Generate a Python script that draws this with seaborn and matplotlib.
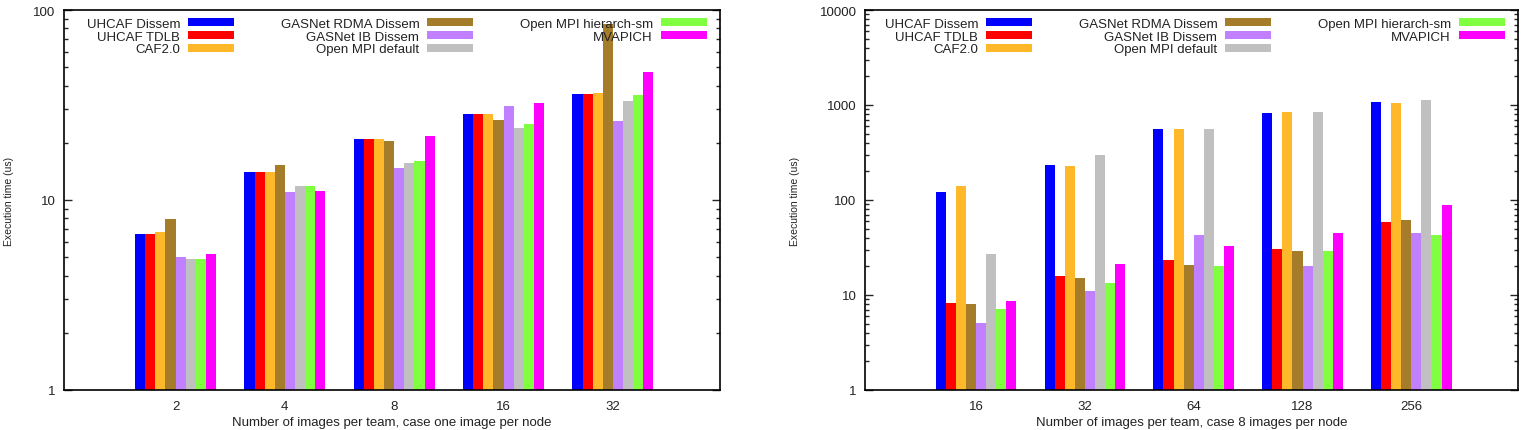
import pandas as pd
import matplotlib
matplotlib.use('Agg')
import matplotlib.pyplot as plt
import seaborn as sns
from matplotlib.patches import Patch
from matplotlib.ticker import LogLocator, NullFormatter

# 系列名称和颜色
series = ['UHCAF Dissem', 'UHCAF TDLB', 'CAF2.0', 'GASNet RDMA Dissem',
          'GASNet IB Dissem', 'Open MPI default', 'Open MPI hierarch-sm', 'MVAPICH']
colors = ['#0000ff', '#ff0000', '#ffb829', '#a57c29',
          '#c080ff', '#c0c0c0', '#80ff40', '#ff00ff']

# 左图: one image per node
images_one = ['2', '4', '8', '16', '32']
one_uhcaf_dissem = [6.6, 14.0, 21.0, 28.4, 36.1]
one_uhcaf_tdlb = [6.6, 14.0, 21.0, 28.4, 36.1]
one_caf20 = [6.8, 14.0, 21.0, 28.2, 36.6]
one_gasnet_rdma = [7.9, 15.2, 20.5, 26.3, 84.0]
one_gasnet_ib = [5.0, 11.0, 14.8, 31.2, 26.0]
one_ompi_default = [4.9, 11.8, 15.7, 23.9, 33.3]
one_ompi_hier = [4.9, 11.9, 16.0, 25.0, 35.6]
one_mvapich = [5.2, 11.2, 21.6, 32.4, 47.3]

# 右图: 8 images per node
images_eight = ['16', '32', '64', '128', '256']
eight_uhcaf_dissem = [122, 234, 563, 817, 1083]
eight_uhcaf_tdlb = [8.3, 15.8, 23.4, 30.7, 58.7]
eight_caf20 = [139, 226, 555, 837, 1050]
eight_gasnet_rdma = [8.0, 15.2, 20.7, 29.0, 61.1]
eight_gasnet_ib = [5.1, 11.1, 42.5, 20.2, 45.0]
eight_ompi_default = [27.2, 300, 563, 837, 1129]
eight_ompi_hier = [7.1, 13.4, 20.3, 28.8, 42.8]
eight_mvapich = [8.6, 21.2, 33.0, 45.0, 87.9]


def to_long(cats, values):
    rows = []
    for name, vals in zip(series, values):
        for c, v in zip(cats, vals):
            rows.append({'images': c, 'series': name, 'time': v})
    return pd.DataFrame(rows)


df_one = to_long(images_one, [one_uhcaf_dissem, one_uhcaf_tdlb, one_caf20, one_gasnet_rdma,
                              one_gasnet_ib, one_ompi_default, one_ompi_hier, one_mvapich])
df_eight = to_long(images_eight, [eight_uhcaf_dissem, eight_uhcaf_tdlb, eight_caf20, eight_gasnet_rdma,
                                  eight_gasnet_ib, eight_ompi_default, eight_ompi_hier, eight_mvapich])

sns.set_style('white')
plt.rcParams['font.family'] = ['Liberation Sans', 'DejaVu Sans']
fs = 9.5

fig = plt.figure(figsize=(15.27, 4.31), dpi=100)
ax1 = fig.add_axes([64 / 1527, 1 - 391 / 431, 656 / 1527, 380 / 431])
ax2 = fig.add_axes([865 / 1527, 1 - 391 / 431, 653 / 1527, 380 / 431])

panels = [
    (ax1, df_one, images_one, (1, 100), 'Number of images per team, case one image per node'),
    (ax2, df_eight, images_eight, (1, 10000), 'Number of images per team, case 8 images per node'),
]

for ax, df, cats, ylim, xlabel in panels:
    sns.barplot(data=df, x='images', y='time', hue='series', order=cats, hue_order=series,
                palette=colors, saturation=1, width=0.74, gap=0, linewidth=0,
                errorbar=None, legend=False, ax=ax)
    ax.set_yscale('log')
    ax.set_xlim(-1.02, 4.98)
    ax.yaxis.set_major_locator(LogLocator(base=10))
    ax.yaxis.set_minor_locator(LogLocator(base=10, subs=range(2, 10)))
    ax.yaxis.set_minor_formatter(NullFormatter())
    ax.set_ylim(*ylim)
    ticks = [t for t in ax.get_yticks() if ylim[0] <= t <= ylim[1]]
    ax.set_yticks(ticks)
    ax.set_yticklabels([f'{int(t)}' for t in ticks])
    ax.set_ylim(*ylim)
    ax.tick_params(axis='y', which='major', direction='in', length=6, width=1,
                   left=True, right=True, labelsize=fs, pad=6, labelcolor='#222222')
    ax.tick_params(axis='y', which='minor', direction='in', length=3, width=1,
                   left=True, right=True)
    ax.tick_params(axis='x', length=0, labelsize=fs, pad=7, labelcolor='#222222')
    for s in ax.spines.values():
        s.set_visible(True)
        s.set_color('black')
        s.set_linewidth(1.2)
    ax.set_xlabel(xlabel, fontsize=fs, labelpad=3, color='#222222')
    ax.set_ylabel('Execution time (us)', fontsize=7.5, labelpad=14, color='#222222')

    handles = [Patch(facecolor=c, edgecolor='none') for c in colors]
    leg = ax.legend(handles, series, ncol=3, markerfirst=False, frameon=False, loc='upper right',
                    bbox_to_anchor=(0.992, 1.0), fontsize=fs, handlelength=3.5, handleheight=0.55,
                    labelspacing=0.05, handletextpad=0.6, columnspacing=3.5,
                    borderaxespad=0.3, borderpad=0.3)
    for t in leg.get_texts():
        t.set_color('#222222')

fig.savefig('out.png', dpi=100)
